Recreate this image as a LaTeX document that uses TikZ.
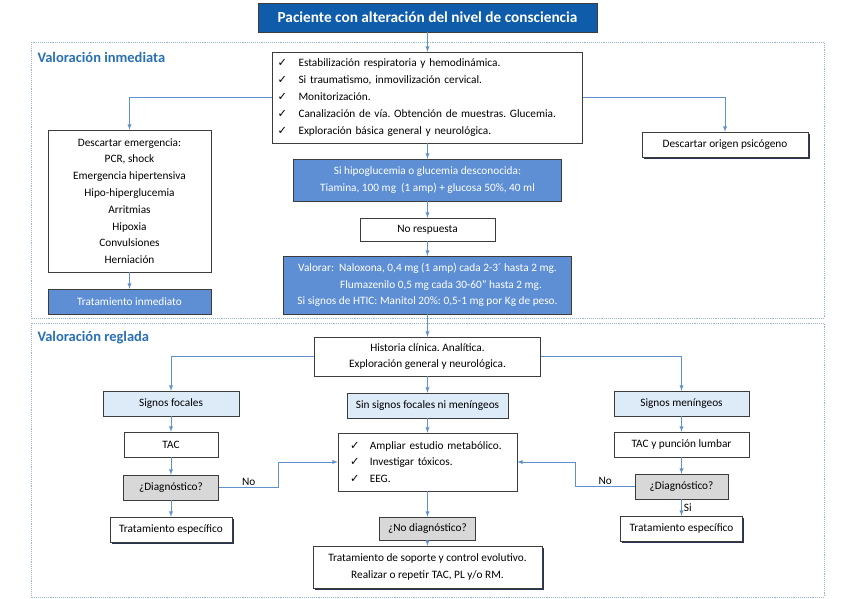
\documentclass[tikz,border=0pt]{standalone}
\usepackage{fontspec}
\setmainfont{Carlito}
\newfontfamily\chkfont{DejaVu Sans}
\usetikzlibrary{shadows}

\definecolor{borde}{RGB}{60,60,60}
\definecolor{azullinea}{RGB}{96,145,204}
\definecolor{titulofondo}{RGB}{14,92,170}
\definecolor{cajaazul}{RGB}{94,143,212}
\definecolor{cajaclara}{RGB}{221,234,248}
\definecolor{cajagris}{RGB}{216,216,216}
\definecolor{sombrac}{RGB}{38,52,86}
\definecolor{seccioncol}{RGB}{150,182,214}
\definecolor{titulocol}{RGB}{40,112,180}

\newcommand{\chk}[1][21pt]{\makebox[#1][l]{\chkfont ✓}}
\frenchspacing

\begin{document}
\begin{tikzpicture}
  [
    x = 1pt, y = -1pt,
    every node/.style = {font = \fontsize{11.3}{16.8}\selectfont, align = center},
    medida/.style 2 args = {minimum width = #1, minimum height = #2},
    caja/.style = {draw = borde, fill = white, inner sep = 3pt},
    azul/.style = {caja, fill = cajaazul, text = white},
    clara/.style = {caja, fill = cajaclara},
    gris/.style = {caja, fill = cajagris},
    sombra/.style = {drop shadow = {shadow xshift = 1.5pt, shadow yshift = -1.5pt,
                     fill = sombrac, opacity = 1}},
    flecha/.style = {draw = azullinea, line width = 0.9pt, -latex},
    seccion/.style = {draw = seccioncol, densely dotted, line width = 0.9pt},
    encabezado/.style = {font = \fontsize{14.5}{16}\selectfont\bfseries,
                         text = titulocol, anchor = west}
  ]
  \useasboundingbox (0,0) rectangle (848,599);

  % secciones
  \draw[seccion] (31,42) rectangle (824,318);
  \draw[seccion] (31,323) rectangle (824,597);
  \node[encabezado] (inmediata) at (34,57) {Valoración inmediata};
  \node[encabezado] (reglada) at (34,338) {Valoración reglada};

  \node[caja, fill = titulofondo, text = white, medida = {339pt}{29pt},
        font = \fontsize{15.3}{17}\selectfont\bfseries] (paciente) at (427.5,17.5)
    {Paciente con alteración del nivel de consciencia};

  % valoracion inmediata
  \node[caja, align = left, text width = 300pt, inner xsep = 5pt, minimum height = 91pt]
    (estab) at (427.5,97.5)
    {\chk Estabilización respiratoria y hemodinámica.\\
     \chk Si traumatismo, inmovilización cervical.\\
     \chk Monitorización.\\
     \chk Canalización de vía. Obtención de muestras. Glucemia.\\
     \chk Exploración básica general y neurológica.};
  \node[caja, medida = {163pt}{142pt}] (emerg) at (129.5,201)
    {Descartar emergencia:\\PCR, shock\\Emergencia hipertensiva\\Hipo-hiperglucemia\\
     Arritmias\\Hipoxia\\Convulsiones\\Herniación};
  \node[azul, medida = {163pt}{25pt}] (inmed) at (129.5,301.5) {Tratamiento inmediato};
  \node[caja, sombra, medida = {166pt}{25pt}] (psico) at (725,144.5)
    {Descartar origen psicógeno};
  \node[azul, medida = {268pt}{42pt}] (gluc) at (427.5,180)
    {Si hipoglucemia o glucemia desconocida:\\
     Tiamina, 100 mg\ \ (1 amp) + glucosa 50\%, 40 ml};
  \node[caja, medida = {135pt}{23pt}] (noresp) at (427.5,229.5) {No respuesta};
  \node[azul, medida = {288pt}{58pt}] (valorar) at (427.5,285)
    {Valorar:\ \ Naloxona, 0,4 mg (1 amp) cada 2-3´ hasta 2 mg.\\
     \hspace{2.4em}Flumazenilo 0,5 mg cada 30-60” hasta 2 mg.\\
     Si signos de HTIC: Manitol 20\%: 0,5-1 mg por Kg de peso.};

  % valoracion reglada
  \node[caja, medida = {226pt}{39pt}] (hist) at (427.5,356.5)
    {Historia clínica. Analítica.\\Exploración general y neurológica.};
  \node[clara, medida = {161pt}{25pt}] (sinsig) at (427.5,405.5)
    {Sin signos focales ni meníngeos};
  \node[caja, align = left, text width = 163pt, inner xsep = 8pt, minimum height = 58pt]
    (ampliar) at (427.5,462)
    {\hspace{4pt}\chk[16pt] Ampliar estudio metabólico.\\
     \hspace{4pt}\chk[16pt] Investigar tóxicos.\\
     \hspace{4pt}\chk[16pt] EEG.};
  \node[gris, medida = {96pt}{23pt}] (nodiag) at (427.5,528.5) {¿No diagnóstico?};
  \node[caja, sombra, medida = {229pt}{42pt}] (soporte) at (427.5,567)
    {Tratamiento de soporte y control evolutivo.\\Realizar o repetir TAC, PL y/o RM.};

  \node[clara, medida = {136pt}{25pt}] (focal) at (171,403.5) {Signos focales};
  \node[caja, medida = {94pt}{25pt}] (tacL) at (171,444.5) {TAC};
  \node[gris, medida = {95pt}{25pt}] (diagL) at (171,487.5) {¿Diagnóstico?};
  \node[caja, sombra, medida = {122pt}{25pt}] (tratL) at (171,529.5) {Tratamiento específico};

  \node[clara, medida = {135pt}{25pt}] (menin) at (681.5,403.5) {Signos meníngeos};
  \node[caja, medida = {135pt}{25pt}] (tacR) at (681.5,444.5) {TAC y punción lumbar};
  \node[gris, medida = {93pt}{25pt}] (diagR) at (681.5,486.5) {¿Diagnóstico?};
  \node[caja, sombra, medida = {122pt}{25pt}] (tratR) at (681.5,528.5) {Tratamiento específico};

  % conectores
  \draw[flecha] (paciente) -- (estab);
  \draw[flecha] (estab.west) -| (emerg.north);
  \draw[flecha] (estab.east) -| (psico.north);
  \draw[flecha] (emerg) -- (inmed);
  \draw[flecha] (estab) -- (gluc);
  \draw[flecha] (gluc) -- (noresp);
  \draw[flecha] (noresp) -- (valorar);
  \draw[flecha] (valorar) -- (hist);
  \draw[flecha] (hist.west) -| (focal.north);
  \draw[flecha] (hist.east) -| (menin.north);
  \draw[flecha] (hist) -- (sinsig);
  \draw[flecha] (sinsig) -- (ampliar);
  \draw[flecha] (ampliar) -- (nodiag);
  \draw[flecha] (nodiag) -- (soporte);
  \draw[flecha] (focal) -- (tacL);
  \draw[flecha] (tacL) -- (diagL);
  \draw[flecha] (diagL) -- (tratL);
  \draw[flecha] (menin) -- (tacR);
  \draw[flecha] (tacR) -- (diagR);
  \draw[flecha] (diagR) -- node[right, inner sep = 2pt] {Si} (tratR);
  \draw[flecha] (diagL.east) -- node[above, inner sep = 1pt] {No} ++(60,0) |- (ampliar.west);
  \draw[flecha] (diagR.west) -- node[above, inner sep = 1pt] {No} ++(-59,0) |- (ampliar.east);
\end{tikzpicture}
\end{document}
